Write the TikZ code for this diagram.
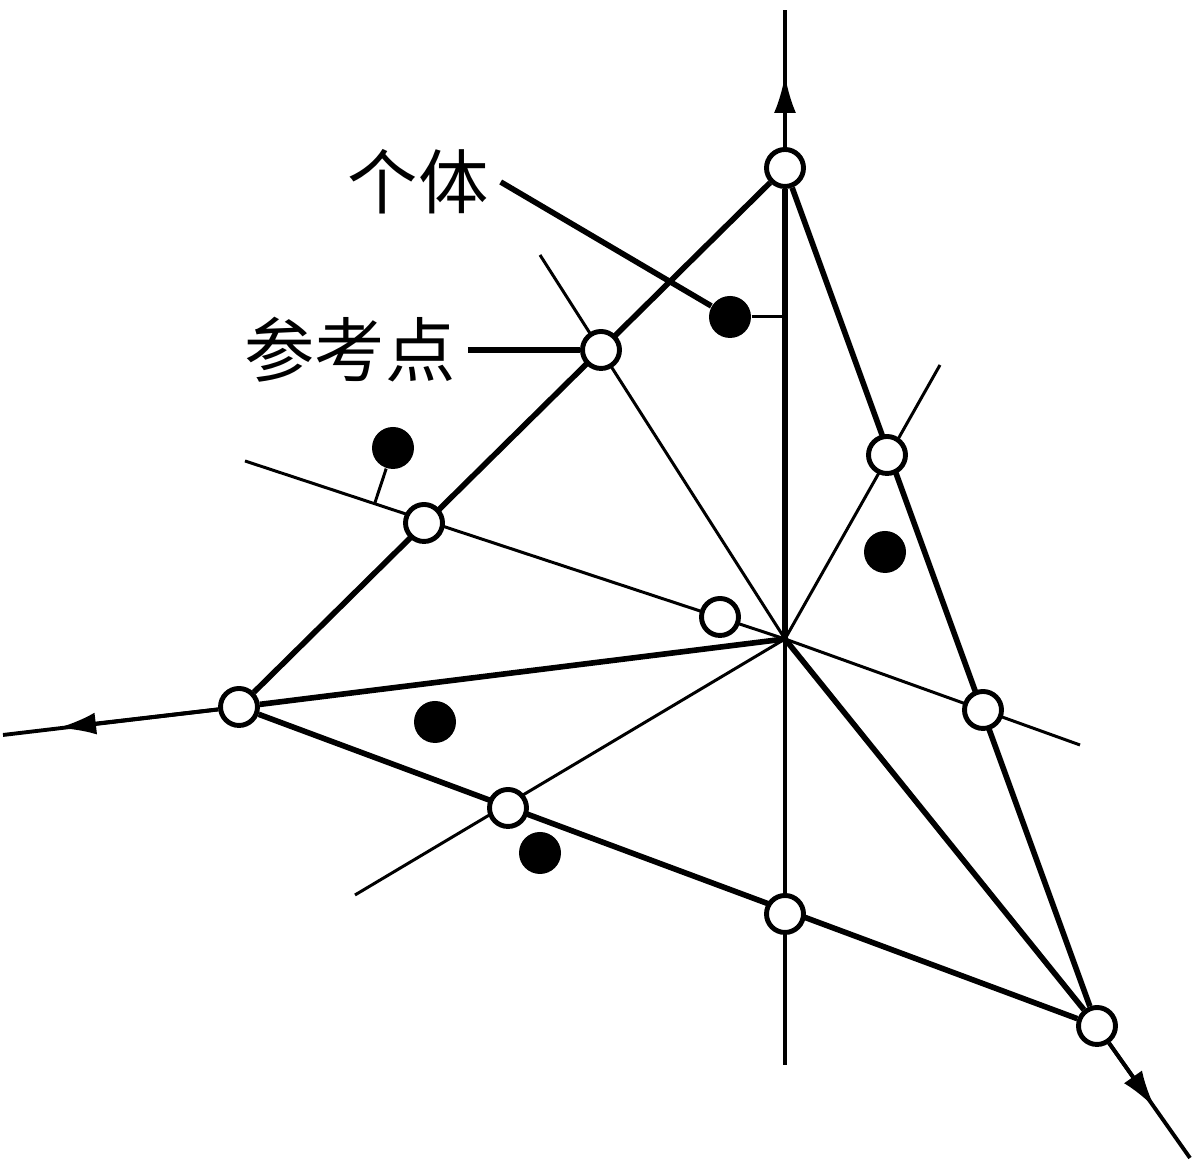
\documentclass[tikz,border=0pt]{standalone}
\usepackage{fontspec}
\newfontfamily\cjk{Noto Sans CJK SC}
\usetikzlibrary{arrows.meta,backgrounds,calc}
\begin{document}
\begin{tikzpicture}[
        ring/.style={circle, draw, fill=white, line width=1.4pt, minimum size=0.37cm, inner sep=0pt},
        dot/.style={circle, fill=black, minimum size=0.42cm, inner sep=0pt},
        edge/.style={line width=1.6pt},
        thinray/.style={line width=0.85pt},
        axisline/.style={line width=1.1pt},
        tip/.style={-{Latex[length=3.8mm, width=2.2mm]}},
        lbl/.style={font=\cjk\fontsize{20}{24}\selectfont}]

        \useasboundingbox (0, 0) rectangle (12, 11.7);

        % centre and free ends of the rays
        \coordinate (O) at (7.85, 5.31);
        \coordinate (topT) at (7.85, 11.60);
        \coordinate (tipT) at (7.85, 10.95);
        \coordinate (botV) at (7.85, 1.05);
        \coordinate (endL) at (0.03, 4.35);
        \coordinate (tipL) at (0.58, 4.42);
        \coordinate (endC) at (11.90, 0.12);
        \coordinate (tipC) at (11.55, 0.62);
        \coordinate (L1) at (2.45, 7.09);
        \coordinate (R1) at (10.80, 4.25);
        \coordinate (U1) at (5.40, 9.15);
        \coordinate (U2) at (9.40, 8.05);
        \coordinate (W1) at (3.55, 2.75);

        % vertices and reference points
        \draw (7.85, 10.02) node[ring] (A) {};
        \draw (2.39, 4.63) node[ring] (B) {};
        \draw (10.97, 1.44) node[ring] (C) {};
        \draw (6.01, 8.20) node[ring] (P1) {};
        \draw (4.24, 6.47) node[ring] (P2) {};
        \draw (5.08, 3.62) node[ring] (P3) {};
        \draw (7.85, 2.56) node[ring] (P4) {};
        \draw (9.83, 4.60) node[ring] (P5) {};
        \draw (8.87, 7.15) node[ring] (P6) {};
        \draw (7.20, 5.53) node[ring] (P7) {};

        % individuals
        \draw (7.30, 8.53) node[dot] (D1) {};
        \draw (3.93, 7.22) node[dot] (D2) {};
        \draw (8.85, 6.18) node[dot] (D3) {};
        \draw (4.35, 4.48) node[dot] (D4) {};
        \draw (5.40, 3.17) node[dot] (D5) {};

        \node[lbl] (indiv) at (4.18, 9.88) {个体};
        \node[lbl] (refpt) at (3.50, 8.20) {参考点};

        \begin{scope}[on background layer]
            \draw[axisline] (botV) -- (topT);
            \draw[axisline, tip] (A) -- (tipT);
            \draw[axisline] (B) -- (endL);
            \draw[axisline, tip] (B) -- (tipL);
            \draw[axisline] (C) -- (endC);
            \draw[axisline, tip] (C) -- (tipC);

            \draw[edge] (A) -- (B) -- (C) -- (A);
            \draw[edge] (A) -- (O) -- (B);
            \draw[edge] (O) -- (C);

            \draw[thinray] (L1) -- (O) -- (R1);
            \draw[thinray] (U1) -- (O);
            \draw[thinray] (U2) -- (O) -- (W1);

            \draw[thinray] (D1) -- (D1 -| O);
            \draw[thinray] (D2) -- ($(L1)!(D2)!(O)$);
        \end{scope}

        \draw[edge] (indiv.east) -- (D1);
        \draw[edge] (refpt.east) -- (P1);

\end{tikzpicture}
\end{document}
